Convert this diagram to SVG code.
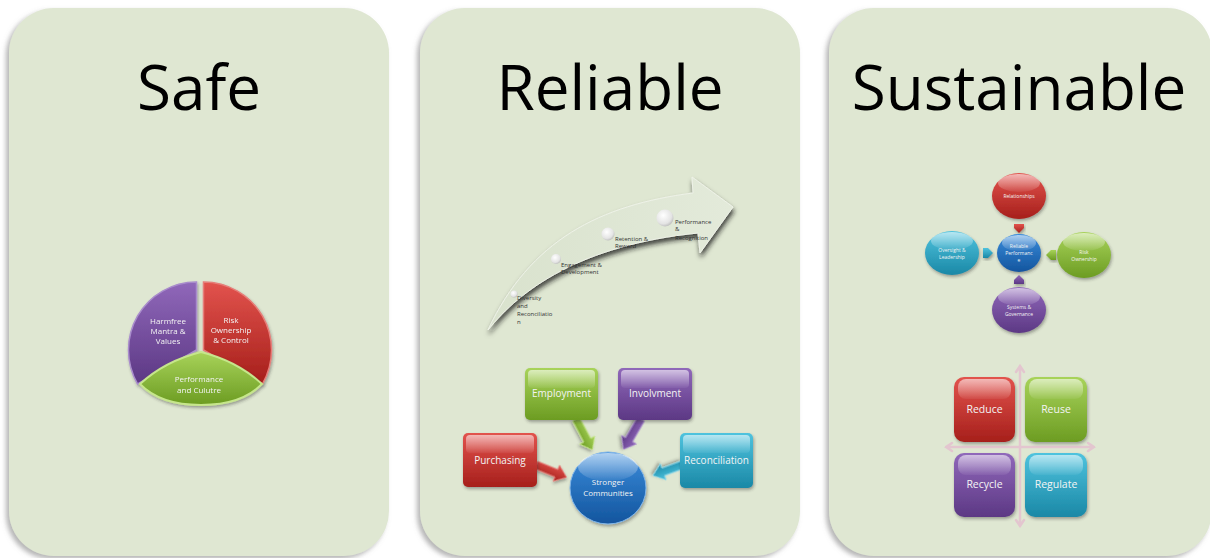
<svg xmlns="http://www.w3.org/2000/svg" width="1210" height="558" viewBox="0 0 1210 558">
<defs>
<style>
.panel{fill:#dfe7d2;filter:url(#pshadow)}
.title{font-family:"Open Sans","Liberation Sans",sans-serif;font-size:62px;fill:#000;text-anchor:middle}
.wl{font-family:"Open Sans","Liberation Sans",sans-serif;fill:#f4f4f4;text-anchor:middle}
.bl{font-family:"Open Sans","Liberation Sans",sans-serif;fill:#333;font-size:6px}
.gloss{fill:url(#gloss)}
.sh{filter:url(#sshadow)}
.axis{stroke:#e3c6cf;stroke-width:2.5;fill:none;stroke-linecap:round}
</style>
<filter id="pshadow" x="-10%" y="-10%" width="120%" height="120%">
<feDropShadow dx="-3" dy="3" stdDeviation="2.5" flood-color="#777" flood-opacity="0.55"/>
</filter>
<filter id="sshadow" x="-20%" y="-20%" width="140%" height="150%">
<feDropShadow dx="1" dy="2" stdDeviation="1.5" flood-color="#333" flood-opacity="0.4"/>
</filter>
<filter id="ashadow" x="-20%" y="-20%" width="140%" height="160%">
<feDropShadow dx="1" dy="4" stdDeviation="2.5" flood-color="#1a1a1a" flood-opacity="0.8"/>
</filter>
<linearGradient id="gloss" x1="0" y1="0" x2="0" y2="1">
<stop offset="0" stop-color="#fff" stop-opacity="0.6"/>
<stop offset="1" stop-color="#fff" stop-opacity="0.05"/>
</linearGradient>
<linearGradient id="gRed" x1="0" y1="0" x2="0" y2="1">
<stop offset="0" stop-color="#e2534d"/><stop offset="1" stop-color="#a61f1b"/>
</linearGradient>
<linearGradient id="gGreen" x1="0" y1="0" x2="0" y2="1">
<stop offset="0" stop-color="#a8d35a"/><stop offset="1" stop-color="#6c9c22"/>
</linearGradient>
<linearGradient id="gPurple" x1="0" y1="0" x2="0" y2="1">
<stop offset="0" stop-color="#9068ba"/><stop offset="1" stop-color="#5c3884"/>
</linearGradient>
<linearGradient id="gCyan" x1="0" y1="0" x2="0" y2="1">
<stop offset="0" stop-color="#4fc3de"/><stop offset="1" stop-color="#1a88a6"/>
</linearGradient>
<linearGradient id="gBlue" x1="0" y1="0" x2="0" y2="1">
<stop offset="0" stop-color="#3b8cdb"/><stop offset="1" stop-color="#13559e"/>
</linearGradient>
<linearGradient id="gArrow" x1="0" y1="0" x2="1" y2="0">
<stop offset="0" stop-color="#d9e2cd"/><stop offset="1" stop-color="#e3eada"/>
</linearGradient>
<radialGradient id="gBall" cx="0.4" cy="0.35" r="0.7">
<stop offset="0" stop-color="#ffffff"/><stop offset="0.7" stop-color="#e4e4e4"/><stop offset="1" stop-color="#b8b8b8"/>
</radialGradient>
</defs>

<!-- Panels -->
<g id="panel-safe">
<rect class="panel" x="9" y="8" width="380" height="548" rx="45"/>
<text class="title" x="199" y="110">Safe</text>
</g>
<g id="panel-reliable">
<rect class="panel" x="420" y="8" width="380" height="548" rx="45"/>
<text class="title" x="610" y="110">Reliable</text>
</g>
<g id="panel-sustainable">
<rect class="panel" x="829" y="8" width="383" height="548" rx="45"/>
<text class="title" x="1019" y="110">Sustainable</text>
</g>

<!-- Safe: pie -->
<g id="pie-harmfree" class="sh">
<path d="M196.5,350 L196.5,282 A68,68 0 0 0 137.6,384 Z" fill="url(#gPurple)" stroke="#a98ccc" stroke-width="1.5"/>
<text class="wl" font-size="8" x="168" y="324">Harmfree</text>
<text class="wl" font-size="8" x="168" y="334">Mantra &amp;</text>
<text class="wl" font-size="8" x="168" y="344">Values</text>
</g>
<g id="pie-risk" class="sh">
<path d="M203.5,350 L203.5,282 A68,68 0 0 1 262.4,384 Z" fill="url(#gRed)" stroke="#e67e79" stroke-width="1.5"/>
<text class="wl" font-size="8" x="231" y="323">Risk</text>
<text class="wl" font-size="8" x="231" y="333">Ownership</text>
<text class="wl" font-size="8" x="231" y="343">&amp; Control</text>
</g>
<g id="pie-performance" class="sh">
<path d="M140,384 Q165,361 201,352 Q237,361 262,384 Q242,405 201,405 Q160,405 140,384 Z" fill="url(#gGreen)" stroke="#c6e68c" stroke-width="2"/>
<text class="wl" font-size="8" x="199" y="382">Performance</text>
<text class="wl" font-size="8" x="199" y="393">and Culutre</text>
</g>

<!-- Reliable: curved arrow -->
<g id="growth-arrow">
<path d="M488,330 C520,290 580,245 698,233 L700,253 L733,207 L692,177 L693,193 C600,205 530,240 488,330 Z" fill="url(#gArrow)" stroke="#eef2e8" stroke-width="1" filter="url(#ashadow)"/>
</g>
<g id="step-diversity">
<circle cx="514" cy="294" r="3.5" fill="url(#gBall)"/>
<text class="bl" x="517" y="300">Diversity</text>
<text class="bl" x="517" y="308">and</text>
<text class="bl" x="517" y="316">Reconciliatio</text>
<text class="bl" x="517" y="324">n</text>
</g>
<g id="step-engagement">
<circle cx="556" cy="259" r="5" fill="url(#gBall)"/>
<text class="bl" x="561" y="267">Engagement &amp;</text>
<text class="bl" x="561" y="274">Development</text>
</g>
<g id="step-retention">
<circle cx="608" cy="234" r="6.5" fill="url(#gBall)"/>
<text class="bl" x="615" y="241">Retention &amp;</text>
<text class="bl" x="615" y="248">Reward</text>
</g>
<g id="step-performance">
<circle cx="665" cy="218" r="8.5" fill="url(#gBall)"/>
<text class="bl" x="675" y="224">Performance</text>
<text class="bl" x="675" y="231">&amp;</text>
<text class="bl" x="675" y="240">Recognition</text>
</g>

<!-- Connectors -->
<g id="connectors">
<path class="sh" transform="translate(536,465) rotate(22)" d="M0,-4 L22,-4 L22,-8.5 L33,0 L22,8.5 L22,4 L0,4 Z" fill="url(#gRed)" stroke="#e67e79" stroke-width="1"/>
<path class="sh" transform="translate(576,419) rotate(62)" d="M0,-4 L24,-4 L24,-8.5 L35,0 L24,8.5 L24,4 L0,4 Z" fill="url(#gGreen)" stroke="#c6e68c" stroke-width="1"/>
<path class="sh" transform="translate(641,419) rotate(120)" d="M0,-4 L24,-4 L24,-8.5 L35,0 L24,8.5 L24,4 L0,4 Z" fill="url(#gPurple)" stroke="#a98ccc" stroke-width="1"/>
<path class="sh" transform="translate(682,465) rotate(160)" d="M0,-4 L20,-4 L20,-8.5 L31,0 L20,8.5 L20,4 L0,4 Z" fill="url(#gCyan)" stroke="#8fd9ea" stroke-width="1"/>
<path class="sh" d="M1014,224 L1024,224 L1024,228 L1019,233 L1014,228 Z" fill="url(#gRed)"/>
<path class="sh" d="M983,248 L988,248 L993,253 L988,258 L983,258 Z" fill="url(#gCyan)"/>
<path class="sh" d="M1056,250 L1051,250 L1046,255 L1051,260 L1056,260 Z" fill="url(#gGreen)"/>
<path class="sh" d="M1014,284 L1024,284 L1024,280 L1019,275 L1014,280 Z" fill="url(#gPurple)"/>
<path class="axis" d="M1020,367 L1020,526 M1016,372 L1020,366 L1024,372 M1016,520 L1020,526 L1024,520"/>
<path class="axis" d="M946,447 L1094,447 M952,443 L946,447 L952,451 M1088,443 L1094,447 L1088,451"/>
</g>

<g id="box-employment">
<rect class="sh" x="525" y="368" width="73" height="52" rx="5" fill="url(#gGreen)"/>
<rect class="gloss" x="528" y="370" width="67" height="18" rx="4"/>
<text class="wl" font-size="10" x="561.5" y="397">Employment</text>
</g>
<g id="box-involvment">
<rect class="sh" x="618" y="368" width="74" height="52" rx="5" fill="url(#gPurple)"/>
<rect class="gloss" x="621" y="370" width="68" height="18" rx="4"/>
<text class="wl" font-size="10" x="655" y="397">Involvment</text>
</g>
<g id="box-purchasing">
<rect class="sh" x="463" y="433" width="74" height="54" rx="5" fill="url(#gRed)"/>
<rect class="gloss" x="466" y="435" width="68" height="18" rx="4"/>
<text class="wl" font-size="10" x="500" y="464">Purchasing</text>
</g>
<g id="box-reconciliation">
<rect class="sh" x="680" y="433" width="73" height="55" rx="5" fill="url(#gCyan)"/>
<rect class="gloss" x="683" y="435" width="67" height="18" rx="4"/>
<text class="wl" font-size="10" x="716.5" y="464">Reconciliation</text>
</g>
<g id="circle-stronger">
<ellipse class="sh" cx="608" cy="488" rx="38" ry="36" fill="url(#gBlue)" stroke="#7fb4e8" stroke-width="1"/>
<ellipse class="gloss" cx="608" cy="467" rx="30" ry="14"/>
<text class="wl" font-size="8" x="608" y="485">Stronger</text>
<text class="wl" font-size="8" x="608" y="496">Communities</text>
</g>

<!-- Sustainable: cycle -->
<g id="node-relationships">
<ellipse class="sh" cx="1019" cy="196" rx="27" ry="23" fill="url(#gRed)"/>
<ellipse class="gloss" cx="1019" cy="183" rx="21" ry="9"/>
<text class="wl" font-size="5" x="1019" y="198">Relationships</text>
</g>
<g id="node-oversight">
<ellipse class="sh" cx="952" cy="253" rx="27" ry="22" fill="url(#gCyan)"/>
<ellipse class="gloss" cx="952" cy="241" rx="21" ry="9"/>
<text class="wl" font-size="5" x="952" y="252">Oversight &amp;</text>
<text class="wl" font-size="5" x="952" y="259">Leadership</text>
</g>
<g id="node-reliable">
<ellipse class="sh" cx="1019" cy="253" rx="22" ry="19" fill="url(#gBlue)"/>
<ellipse class="gloss" cx="1019" cy="243" rx="17" ry="8"/>
<text class="wl" font-size="5" x="1019" y="248">Reliable</text>
<text class="wl" font-size="5" x="1019" y="255">Performanc</text>
<text class="wl" font-size="5" x="1019" y="262">e</text>
</g>
<g id="node-riskownership">
<ellipse class="sh" cx="1084" cy="255" rx="27" ry="23" fill="url(#gGreen)"/>
<ellipse class="gloss" cx="1084" cy="242" rx="21" ry="9"/>
<text class="wl" font-size="5" x="1084" y="254">Risk</text>
<text class="wl" font-size="5" x="1084" y="261">Ownership</text>
</g>
<g id="node-systems">
<ellipse class="sh" cx="1019" cy="310" rx="27" ry="23" fill="url(#gPurple)"/>
<ellipse class="gloss" cx="1019" cy="297" rx="21" ry="9"/>
<text class="wl" font-size="5" x="1019" y="309">Systems &amp;</text>
<text class="wl" font-size="5" x="1019" y="316">Governance</text>
</g>

<!-- Sustainable: quadrants -->
<g id="q-reduce">
<rect class="sh" x="954" y="377" width="61" height="65" rx="10" fill="url(#gRed)"/>
<rect class="gloss" x="958" y="379" width="53" height="20" rx="8"/>
<text class="wl" font-size="10.5" x="984.5" y="413">Reduce</text>
</g>
<g id="q-reuse">
<rect class="sh" x="1025" y="377" width="62" height="65" rx="10" fill="url(#gGreen)"/>
<rect class="gloss" x="1029" y="379" width="54" height="20" rx="8"/>
<text class="wl" font-size="10.5" x="1056" y="413">Reuse</text>
</g>
<g id="q-recycle">
<rect class="sh" x="954" y="453" width="61" height="64" rx="10" fill="url(#gPurple)"/>
<rect class="gloss" x="958" y="455" width="53" height="20" rx="8"/>
<text class="wl" font-size="10.5" x="984.5" y="488">Recycle</text>
</g>
<g id="q-regulate">
<rect class="sh" x="1025" y="453" width="62" height="64" rx="10" fill="url(#gCyan)"/>
<rect class="gloss" x="1029" y="455" width="54" height="20" rx="8"/>
<text class="wl" font-size="10.5" x="1056" y="488">Regulate</text>
</g>
</svg>
